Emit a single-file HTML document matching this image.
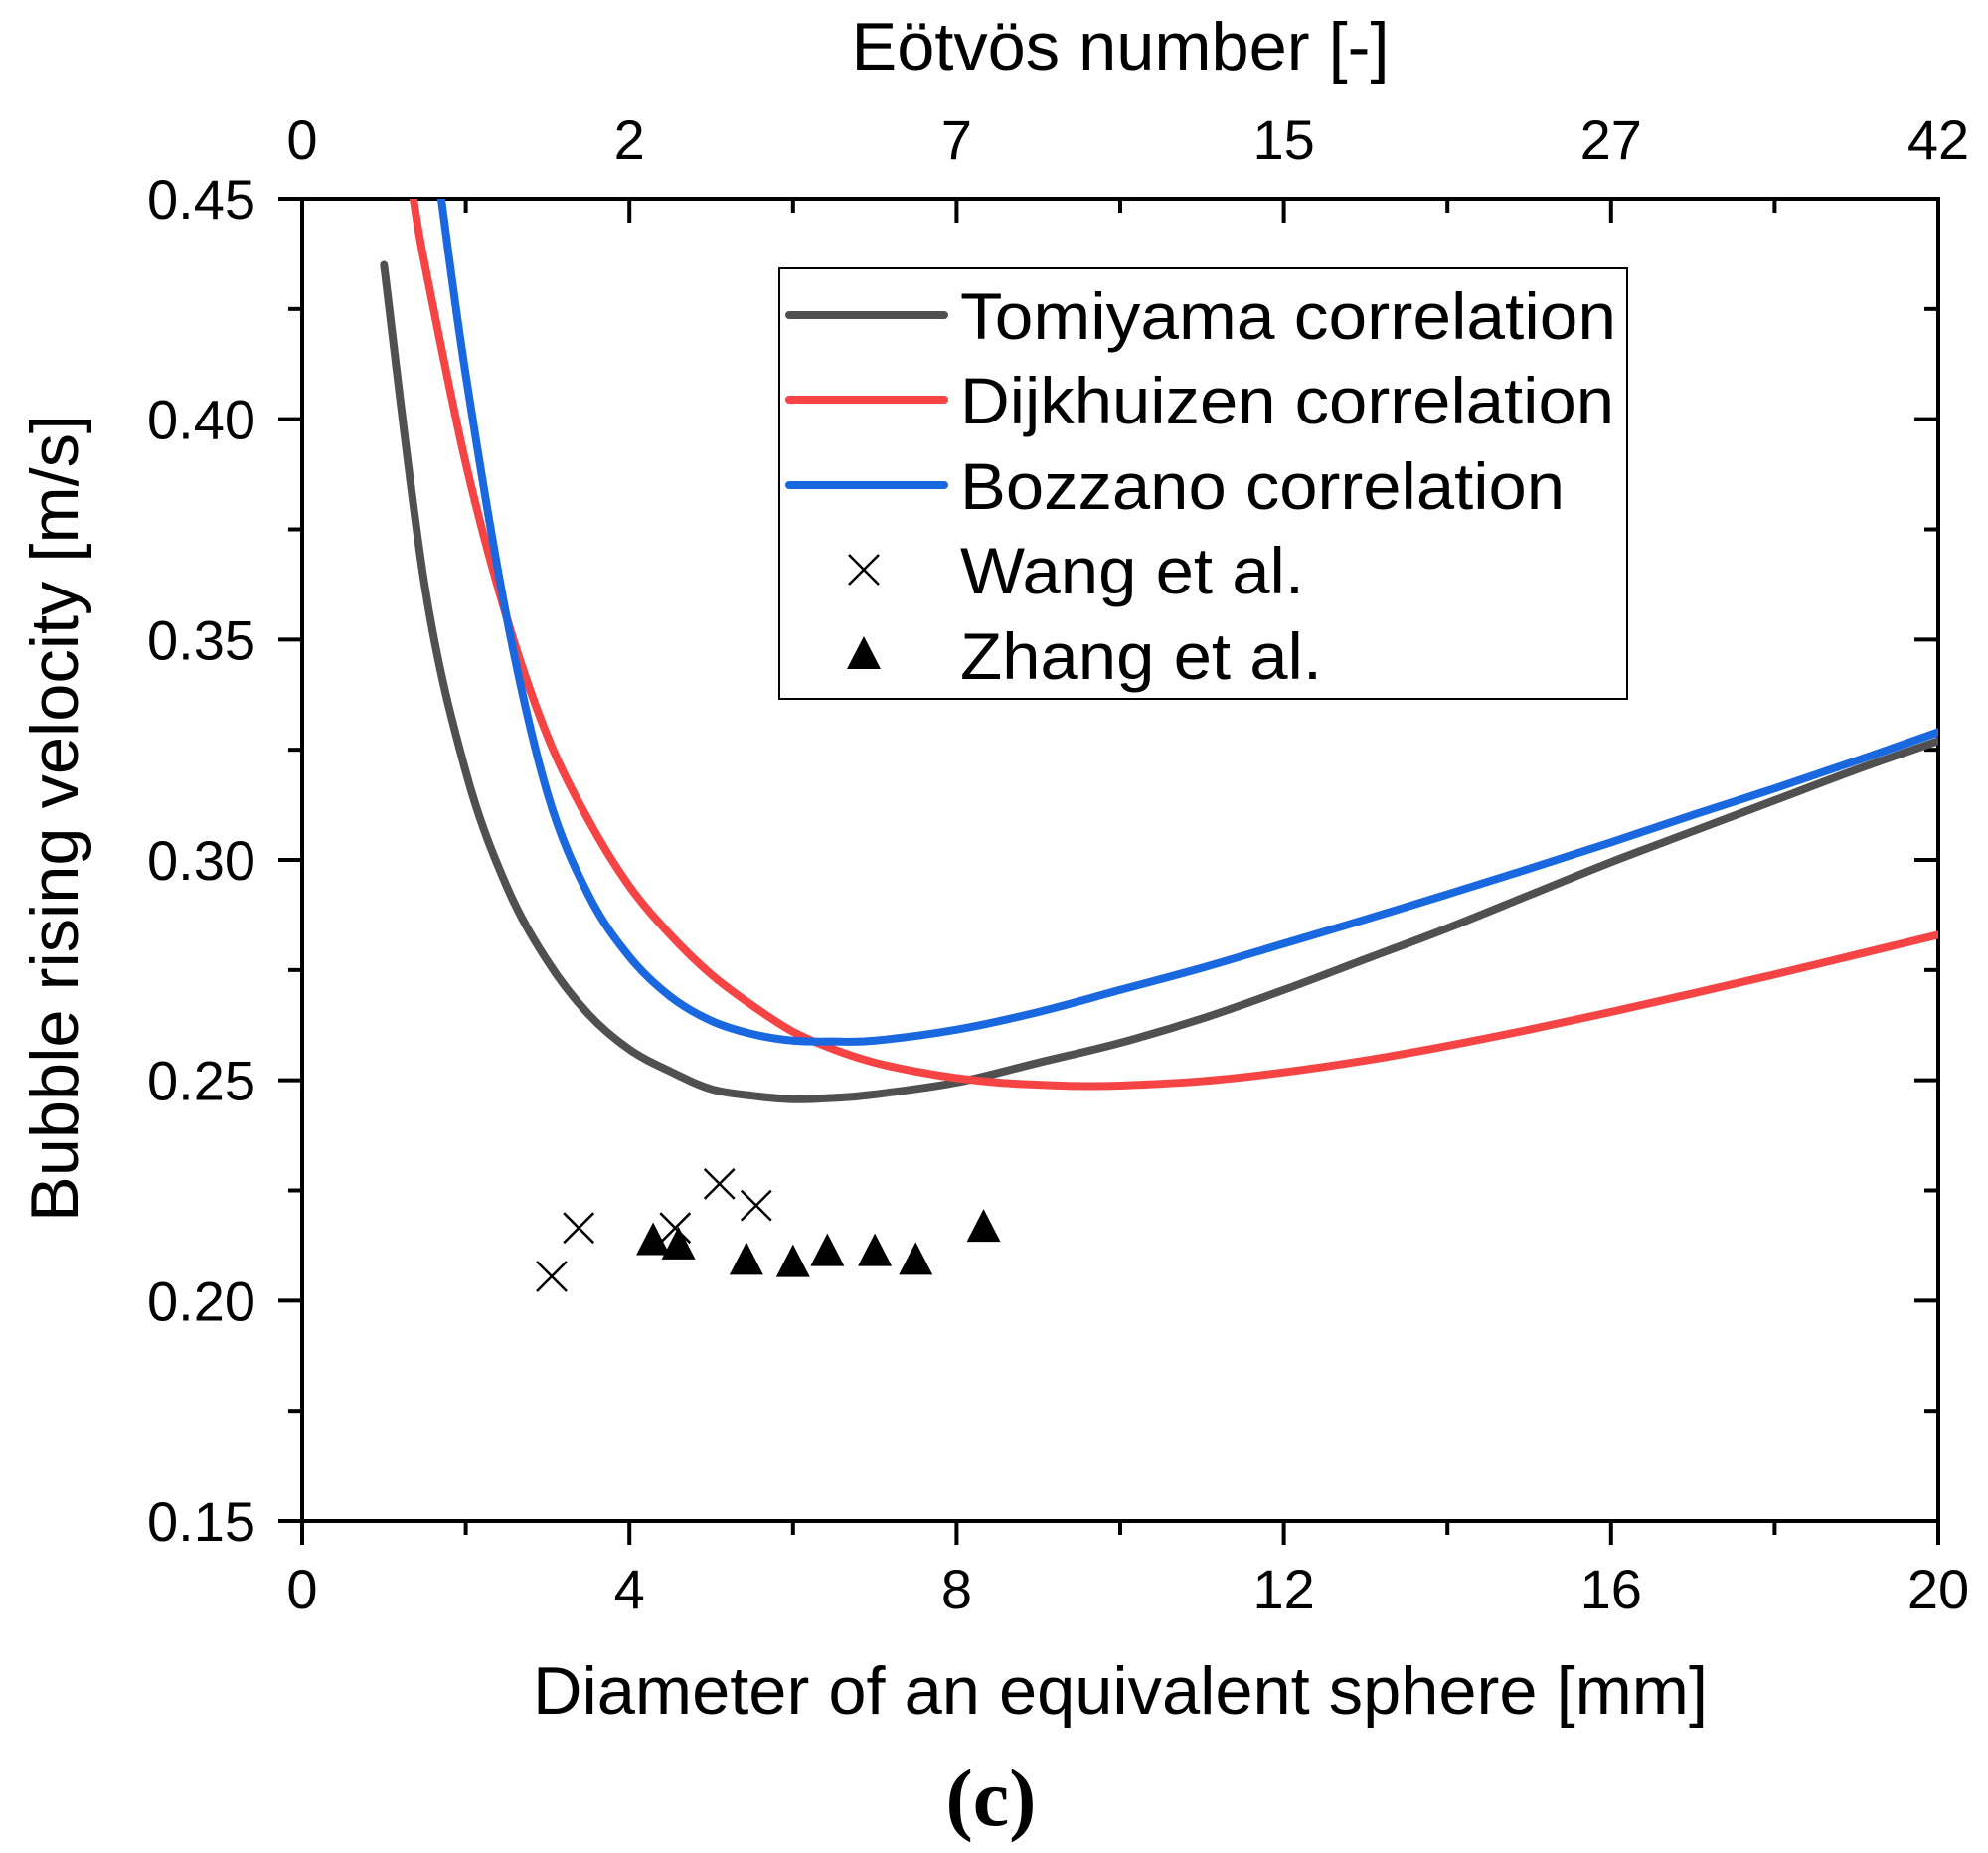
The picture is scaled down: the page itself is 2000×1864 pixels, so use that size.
<!DOCTYPE html>
<html><head><meta charset="utf-8"><style>
html,body{margin:0;padding:0;background:#fff}
svg{display:block}
text{font-family:"Liberation Sans",sans-serif;fill:#000}
</style></head><body>
<svg id="chart" width="2000" height="1864" viewBox="0 0 2000 1864" xmlns="http://www.w3.org/2000/svg">
<g id="axes"></g>
<g id="series"></g>
<g id="legend"></g>
</svg>
<script>
const tomD=[1,1.5,2,2.5,3,3.5,4,4.5,5,5.5,6,6.5,7,8,9,10,11,12,13,14,15,16,17,18,19,20];
const tomV=[.435,.362,.32,.294,.277,.265,.257,.252,.248,.2465,.2457,.246,.2468,.2495,.254,.2585,.264,.2705,.2775,.2845,.292,.2995,.3065,.3135,.3205,.327];
const dijD=[1.36,1.5,2,2.5,3,3.5,4,4.5,5,5.5,6,6.5,7,7.5,8,8.5,9,9.5,10,11,12,13,14,15,16,17,18,19,20];
const dijV=[.45,.435,.39,.355,.328,.309,.294,.283,.274,.267,.261,.257,.254,.252,.2505,.2495,.249,.2487,.2488,.2498,.2518,.2545,.2578,.2615,.2655,.2697,.274,.2785,.283];
const bozD=[1.7,2,2.5,3,3.5,4,4.5,5,5.5,6,6.5,7,8,9,10,11,12,13,14,15,16,17,18,19,20];
const bozV=[.45,.41,.355,.315,.292,.278,.269,.2635,.2605,.259,.2588,.259,.2615,.2655,.2705,.2755,.281,.2865,.2922,.298,.304,.3102,.3162,.3225,.329];
const wangD=[3.05,3.38,4.56,5.1,5.55];
const wangV=[.2055,.2165,.2165,.2265,.2216];
const zhangD=[4.29,4.6,5.43,6.0,6.42,7.0,7.5,8.33];
const zhangV=[.2135,.2125,.209,.2085,.211,.211,.209,.2165];
const xTicks=[0,4,8,12,16,20];
const xTickLabels=["0","4","8","12","16","20"];
const eoLabels=["0","2","7","15","27","42"];
const yTicks=[0.15,0.20,0.25,0.30,0.35,0.40,0.45];
const yTickLabels=["0.15","0.20","0.25","0.30","0.35","0.40","0.45"];

const L=304,R=1950,T=200,B=1530;
const sx=d=>L+(d-0)/(20-0)*(R-L);
const sy=v=>B-(v-0.15)/(0.45-0.15)*(B-T);
const NS="http://www.w3.org/2000/svg";
function mk(tag,attrs,parent){const e=document.createElementNS(NS,tag);for(const k in attrs)e.setAttribute(k,attrs[k]);parent.appendChild(e);return e;}
const ax=document.getElementById('axes'),se=document.getElementById('series'),lg=document.getElementById('legend');

const defs=mk('defs',{},document.getElementById('chart'));
const cp=mk('clipPath',{id:'clip'},defs);
mk('rect',{x:L,y:T,width:R-L,height:B-T},cp);

let fr=mk('rect',{x:L,y:T,width:R-L,height:B-T,fill:'none',stroke:'#000','stroke-width':4},ax);



for(let d=0;d<=20;d+=2){
  const major=d%4===0;const x=sx(d);const len=major?24:14;
  let t=mk('line',{x1:x,x2:x,y1:B,y2:B+len,stroke:'#000','stroke-width':4},ax);
  
  
  let t2=mk('line',{x1:x,x2:x,y1:T,y2:T+len,stroke:'#000','stroke-width':4},ax);
  
  
}
xTicks.forEach((d,i)=>{
  let tx=mk('text',{x:sx(d),y:1618,'font-size':56,'text-anchor':'middle'},ax);tx.textContent=xTickLabels[i];
  
  
  let tt=mk('text',{x:sx(d),y:160,'font-size':56,'text-anchor':'middle'},ax);tt.textContent=eoLabels[i];
  
  
});
for(let k=0;k<=12;k++){
  const v=0.15+k*0.025;const major=k%2===0;const y=sy(v);const len=major?24:14;
  let t=mk('line',{x1:L-len,x2:L,y1:y,y2:y,stroke:'#000','stroke-width':4},ax);
  
  
  let t2=mk('line',{x1:R-len,x2:R,y1:y,y2:y,stroke:'#000','stroke-width':4},ax);
  
  
}
yTicks.forEach((v,i)=>{
  let tx=mk('text',{x:257,y:sy(v)+20,'font-size':56,'text-anchor':'end'},ax);tx.textContent=yTickLabels[i];
  
  
});
let xt=mk('text',{x:1127,y:1724,'font-size':68,'text-anchor':'middle',textLength:1182,lengthAdjust:'spacingAndGlyphs'},ax);xt.textContent='Diameter of an equivalent sphere [mm]';


let tt=mk('text',{x:1127,y:70,'font-size':68,'text-anchor':'middle',textLength:541,lengthAdjust:'spacingAndGlyphs'},ax);tt.textContent='Eötvös number [-]';


let yt=mk('text',{x:0,y:0,'font-size':68,'text-anchor':'middle',textLength:812,lengthAdjust:'spacingAndGlyphs',transform:'translate(78,823) rotate(-90)'},ax);yt.textContent='Bubble rising velocity [m/s]';


let cap=mk('text',{x:997,y:1836,'font-size':82,'text-anchor':'middle','font-weight':'bold'},ax);cap.textContent='(c)';
cap.style.fontFamily='"Liberation Serif",serif';



function smoothPath(P){
  let d=`M${P[0][0]},${P[0][1]}`;
  for(let i=0;i<P.length-1;i++){
    const p0=P[Math.max(0,i-1)],p1=P[i],p2=P[i+1],p3=P[Math.min(P.length-1,i+2)];
    const c1=[p1[0]+(p2[0]-p0[0])/6,p1[1]+(p2[1]-p0[1])/6];
    const c2=[p2[0]-(p3[0]-p1[0])/6,p2[1]-(p3[1]-p1[1])/6];
    d+=`C${c1[0]},${c1[1]} ${c2[0]},${c2[1]} ${p2[0]},${p2[1]}`;
  }
  return d;
}
function curve(D,V,color,name){
  const P=D.map((d,i)=>[sx(d),sy(V[i])]);
  const p=mk('path',{d:smoothPath(P),fill:'none',stroke:color,'stroke-width':8,'stroke-linejoin':'round','stroke-linecap':'round','clip-path':'url(#clip)'},se);
  
  
}
curve(tomD,tomV,'#505050','tomiyama-curve');
curve(dijD,dijV,'#f64343','dijkhuizen-curve');
curve(bozD,bozV,'#1a68e0','bozzano-curve');
function cross(x,y,parent){
  return mk('path',{d:`M${x-15},${y-15}L${x+15},${y+15}M${x+15},${y-15}L${x-15},${y+15}`,stroke:'#000','stroke-width':2.5,fill:'none'},parent);
}
function tri(x,y,parent){
  return mk('path',{d:`M${x},${y-19}L${x+17},${y+14}L${x-17},${y+14}Z`,fill:'#000'},parent);
}
wangD.forEach((d,i)=>{const m=cross(sx(d),sy(wangV[i]),se);
  
  });
zhangD.forEach((d,i)=>{const m=tri(sx(d),sy(zhangV[i]),se);
  
  });

let lb=mk('rect',{x:784,y:270,width:853,height:433,fill:'#fff',stroke:'#000','stroke-width':2},lg);


const names=['Tomiyama correlation','Dijkhuizen correlation','Bozzano correlation','Wang et al.','Zhang et al.'];
const widths=[660,658,608,346,364];
const rows=[317,402,488,573,659];
const cols=['#505050','#f64343','#1a68e0'];
names.forEach((n,i)=>{
  const y=rows[i];
  if(i<3){const l=mk('line',{x1:794,x2:950,y1:y,y2:y,stroke:cols[i],'stroke-width':8,'stroke-linecap':'round'},lg);
    
    }
  else if(i===3){const m=cross(869,y,lg);
    }
  else {const m=tri(869,y,lg);
    }
  const t=mk('text',{x:966,y:y+24,'font-size':66,textLength:widths[i],lengthAdjust:'spacingAndGlyphs'},lg);
  t.textContent=n;
  
  
});
</script>
</body></html>
